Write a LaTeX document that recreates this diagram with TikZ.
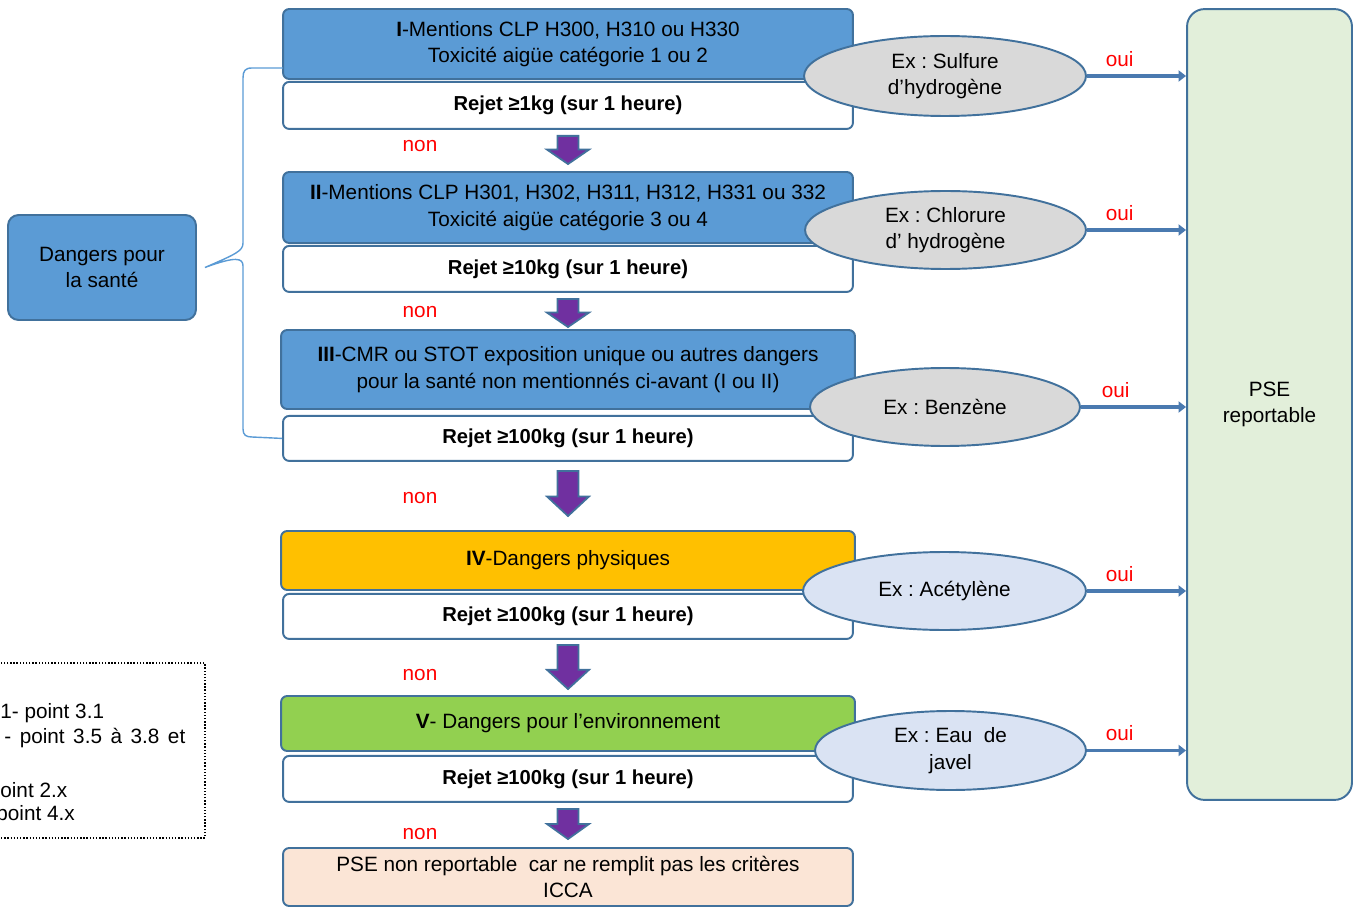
\documentclass[tikz,border=0pt]{standalone}
\usepackage{fontspec}
\setmainfont{Liberation Sans}
\frenchspacing
\definecolor{bleu}{HTML}{5B9BD5}
\definecolor{trait}{HTML}{41719C}
\definecolor{orange}{HTML}{FFC000}
\definecolor{vert}{HTML}{92D050}
\definecolor{gris}{HTML}{D9D9D9}
\definecolor{ciel}{HTML}{DAE3F3}
\definecolor{pale}{HTML}{E2EFDA}
\definecolor{peche}{HTML}{FBE5D6}
\definecolor{violet}{HTML}{7030A0}
\definecolor{fleche}{HTML}{4A7AB0}
\usetikzlibrary{arrows.meta,positioning,calc,shapes.geometric}
\tikzset{
  >={Triangle[length=1.5mm,width=2.2mm]},
  txt/.style={font=\fontsize{11.8}{15}\selectfont},
  boite/.style={txt,draw=trait,rounded corners=3.5pt,line width=1.1pt,inner sep=2pt,align=center,minimum width=11.4cm},
  tete/.style={boite,fill=bleu},
  rejet/.style={boite,fill=white,font=\fontsize{11.5}{15}\selectfont\bfseries},
  ex/.style={txt,ellipse,draw=trait,line width=1.1pt,inner sep=0pt,align=center},
  non/.style={txt,text=red},
  oui/.style={txt,text=red,above=1pt,pos=0.33},
  ouiarr/.style={->,draw=fleche,line width=2.2pt},
  descente/.style={draw=trait,fill=violet,line width=1pt},
  accolade/.style={draw=bleu,line width=0.8pt},
}
\newcommand{\fleche}[4]{%
  \filldraw[descente] let \p1=($(#1.south)+(0,#3)$), \p2=($(#2.north)+(0,-#4)$),
    \n1={0.3*(\y1-\y2)+3.4pt} in
    (\x1-0.21cm,\y1) -- (\x1+0.21cm,\y1) -- (\x1+0.21cm,\y2+\n1) -- (\x1+0.42cm,\y2+\n1)
    -- (\x1,\y2) -- (\x1-0.42cm,\y2+\n1) -- (\x1-0.21cm,\y2+\n1) -- cycle;}

\begin{document}
\begin{tikzpicture}[x=0.02cm,y=-0.02cm]
\useasboundingbox (0,0) rectangle (1354,908);
\clip (0,0) rectangle (1354,908);

% cadre de gauche
\node[boite,fill=bleu,minimum width=3.76cm,minimum height=2.1cm,rounded corners=6pt] (dg) at (102,267.5) {Dangers pour\\la santé};

% niveaux
\node[tete,minimum height=1.4cm] (h1) at (568,44) {\textbf{I}-Mentions CLP H300, H310 ou H330\\Toxicité aigüe catégorie 1 ou 2};
\node[rejet,minimum height=0.94cm,below=0.02cm of h1] (r1) {Rejet ≥1kg (sur 1 heure)};
\node[tete,minimum height=1.42cm] (h2) at (568,207.5) {\textbf{II}-Mentions CLP H301, H302, H311, H312, H331 ou 332\\Toxicité aigüe catégorie 3 ou 4};
\node[rejet,minimum height=0.92cm,below=0.02cm of h2] (r2) {Rejet ≥10kg (sur 1 heure)};
\node[tete,minimum width=11.48cm,minimum height=1.58cm] (h3) at (568,369.5) {\textbf{III}-CMR ou STOT exposition unique ou autres dangers\\pour la santé non mentionnés ci-avant (I ou II)};
\node[rejet,minimum height=0.9cm,below=0.1cm of h3] (r3) {Rejet ≥100kg (sur 1 heure)};
\node[tete,fill=orange,minimum width=11.48cm,minimum height=1.18cm] (h4) at (568,560.5) {\textbf{IV}-Dangers physiques};
\node[rejet,minimum height=0.9cm,below=0.04cm of h4] (r4) {Rejet ≥100kg (sur 1 heure)};
\node[tete,fill=vert,minimum width=11.48cm,minimum height=1.1cm] (h5) at (568,723.5) {\textbf{V}- Dangers pour l’environnement};
\node[rejet,minimum height=0.92cm,below=0.06cm of h5] (r5) {Rejet ≥100kg (sur 1 heure)};
\node[boite,fill=peche,minimum height=1.16cm] (fin) at (568,877) {PSE non reportable~ car ne remplit pas les critères\\ICCA};

% exemples
\node[ex,fill=gris,minimum width=5.64cm,minimum height=1.6cm] (e1) at (945,76) {Ex : Sulfure\\d’hydrogène};
\node[ex,fill=gris,minimum width=5.62cm,minimum height=1.56cm] (e2) at (945.5,230) {Ex : Chlorure\\d’ hydrogène};
\node[ex,fill=gris,minimum width=5.4cm,minimum height=1.56cm] (e3) at (945,407) {Ex : Benzène};
\node[ex,fill=ciel,minimum width=5.66cm,minimum height=1.56cm] (e4) at (944.5,591) {Ex : Acétylène};
\node[ex,fill=ciel,minimum width=5.42cm,minimum height=1.58cm] (e5) at (950.5,750.5) {Ex : Eau~ de\\javel};

\node[boite,fill=pale,minimum width=3.3cm,minimum height=15.82cm,rounded corners=10pt] (pse) at (1269.5,404.5) {PSE\\reportable};

% oui
\foreach \e in {e1,e2,e3,e4,e5}
  \draw[ouiarr] (\e.east) -- (\e.east -| pse.west) node[oui] {oui};

% non
\fleche{r1}{h2}{6}{7}
\fleche{r2}{h3}{6}{2}
\fleche{r3}{h4}{9}{14}
\fleche{r4}{h5}{5}{6}
\fleche{r5}{fin}{6}{8}
\foreach \y in {146,312,498,675,834}
  \node[non] at (420,\y) {non};

% accolade
\coordinate (pointe) at ($(dg.east)+(8,0)$);
\coordinate (bh) at (283,68);
\draw[accolade] (bh) -- (252,68) .. controls (245,68) and (243,71) .. (243,78) -- (243,243)
  .. controls (243,251) and (236,254) .. (pointe) .. controls (236,256) and (243,258) .. (243,266)
  -- (243,429) .. controls (243,435) and (246,437) .. (252,437) -- (r3.west);

% note
\draw[densely dotted,line width=0.8pt] (-20,663) rectangle (205,838);
\node[txt,anchor=west,inner sep=0pt] (n1) at (0,713) {1- point 3.1};
\node[txt,anchor=west,inner sep=0pt] (n2) at (4,738) {\makebox[3.62cm][s]{- point 3.5 à 3.8 et}};
\node[txt,anchor=west,inner sep=0pt] (n3) at (0,790) {oint 2.x};
\node[txt,anchor=west,inner sep=0pt] (n4) at (-4,815) {point 4.x};
\end{tikzpicture}
\end{document}
